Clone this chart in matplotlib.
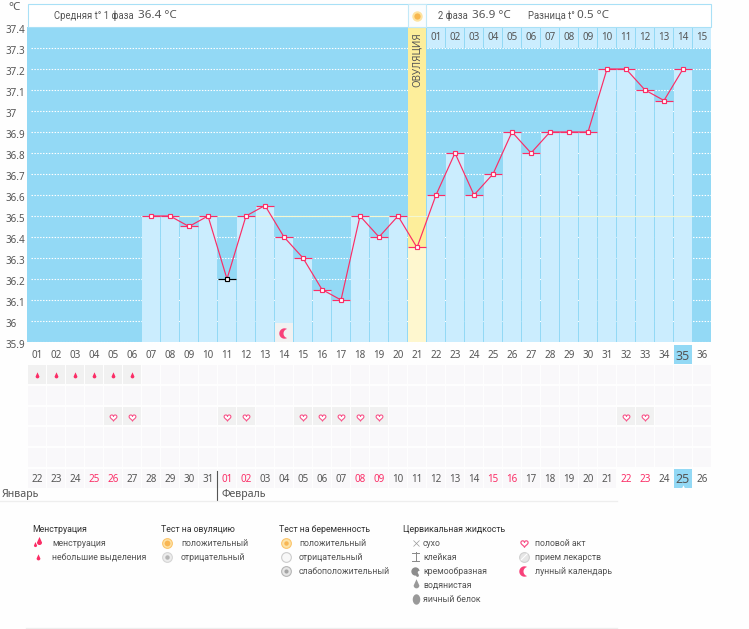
import numpy as np
import matplotlib
matplotlib.use("Agg")
import matplotlib.pyplot as plt
from matplotlib.path import Path
from matplotlib.patches import Rectangle
from matplotlib.transforms import ScaledTranslation

# ---------- data ----------
temp_days = list(range(7, 36))
temps = [36.5, 36.5, 36.45, 36.5, 36.2, 36.5, 36.55, 36.4, 36.3, 36.15, 36.1, 36.5, 36.4, 36.5,
         36.35, 36.6, 36.8, 36.6, 36.7, 36.9, 36.8, 36.9, 36.9, 36.9, 37.2, 37.2, 37.1, 37.05, 37.2]
excluded_days = [11]
ovulation_day = 21
cycle_days = list(range(1, 37))
cycle_labels = [f"{d:02d}" for d in cycle_days]
date_labels = ['22', '23', '24', '25', '26', '27', '28', '29', '30', '31', '01', '02', '03', '04', '05', '06', '07', '08',
               '09', '10', '11', '12', '13', '14', '15', '16', '17', '18', '19', '20', '21', '22', '23', '24', '25', '26']
weekend_days = [4, 5, 11, 12, 18, 19, 25, 26, 32, 33]
phase2_labels = [f"{d:02d}" for d in range(1, 16)]
phase2_days = list(range(22, 37))
spotting_days = [1, 2, 3, 4, 5, 6]
intercourse_days = [5, 6, 11, 12, 15, 16, 17, 18, 19, 32, 33]
moon_day = 14
current_day = 35
y_ticks = [35.9, 36, 36.1, 36.2, 36.3, 36.4, 36.5, 36.6, 36.7, 36.8, 36.9, 37, 37.1, 37.2, 37.3, 37.4]
y_labels = ['35.9', '36', '36.1', '36.2', '36.3', '36.4', '36.5', '36.6', '36.7', '36.8', '36.9', '37', '37.1', '37.2', '37.3', '37.4']

# ---------- style ----------
plt.rcParams['font.family'] = ['Noto Sans', 'DejaVu Sans']
W, H = 749, 629
SKY = '#93d9f5'; BAR = '#cbedfe'; PINK = '#fb2d66'; TXT = '#555555'; CELL = '#f9f8fa'; CELLON = '#f1f1f1'
FS = 7.1
px = 72 / 100

fig = plt.figure(figsize=(W / 100, H / 100), dpi=100, facecolor='#fefefe')

def axes_px(x0, y0, x1, y1, **kw):
    return fig.add_axes([x0 / W, 1 - y1 / H, (x1 - x0) / W, (y1 - y0) / H], **kw)

# markers
t = np.linspace(0, 2 * np.pi, 60)
heart = Path(np.c_[16 * np.sin(t) ** 3, 13 * np.cos(t) - 5 * np.cos(2 * t) - 2 * np.cos(3 * t) - np.cos(4 * t)], closed=True)
drop = Path(np.r_[[[0, 2.2]], np.c_[np.cos(np.linspace(0, -np.pi, 30)), np.sin(np.linspace(0, -np.pi, 30))], [[0, 2.2]]], closed=True)
a1 = np.linspace(np.pi / 3, 5 * np.pi / 3, 40)
a2 = np.linspace(4.486, 1.798, 40)
crescent = Path(np.r_[np.c_[np.cos(a1), np.sin(a1)], np.c_[0.7 + 0.889 * np.cos(a2), 0.889 * np.sin(a2)]], closed=True)
a3 = np.linspace(0, 2 * np.pi, 40)
egg = Path(np.c_[0.72 * np.cos(a3), np.sin(a3)], closed=True)

XLIM = (0.5 - 0.5 / 19, 36.5 - 0.5 / 19)

# ---------- main chart ----------
ax = axes_px(27, 27, 711, 342)
ax.set_zorder(5)
ax.set_xlim(*XLIM)
ax.set_ylim(35.9, 37.4)
ax.set_facecolor(SKY)
for s in ax.spines.values():
    s.set_visible(False)
for v in y_ticks[:-1]:
    ax.hlines(v, 0.68, 36.5, color='white', lw=0.8, linestyles=(0, (1.3, 1.3)), zorder=1, clip_on=False)
bar_w = 18 / 19
ax.bar(temp_days, np.array(temps) - 35.9, bottom=35.9, width=bar_w, color=BAR, zorder=2, antialiased=False)
# header numbers strip
ax.bar(phase2_days, [0.1] * len(phase2_days), bottom=37.3, width=bar_w, color=BAR, zorder=2, antialiased=False)
for d, lab in zip(phase2_days, phase2_labels):
    ax.text(d, 37.349, lab, ha='center', va='center', fontsize=FS, color=TXT, zorder=5)
# ovulation
ot = temps[temp_days.index(ovulation_day)]
ax.bar([ovulation_day], [37.4 - ot], bottom=ot, width=bar_w, color='#fdee9b', zorder=3, antialiased=False)
ax.bar([ovulation_day], [ot - 35.9], bottom=35.9, width=bar_w, color='#fef7cf', zorder=3, antialiased=False)
ax.text(ovulation_day, 37.245, 'ОВУЛЯЦИЯ', rotation=90, ha='center', va='center', fontsize=FS, color=TXT, zorder=5)
# mean line
ax.hlines(36.5, 6.5, 35.5, color='#f3f8d2', lw=0.8, zorder=4)
# temperature
ax.plot(temp_days, temps, color=PINK, lw=0.85, zorder=6)
for d, v in zip(temp_days, temps):
    c = 'black' if d in excluded_days else PINK
    ax.hlines(v, d - 0.47, d + 0.47, color=c, lw=0.85, zorder=6)
    ax.plot([d], [v], marker='s', ms=3.3, mfc='white', mec=c, mew=0.85, zorder=7, ls='none')
# moon
ax.bar([moon_day], [0.09], bottom=35.9, width=bar_w, color=CELLON, zorder=5, antialiased=False)
ax.plot([moon_day], [35.944], marker=crescent, ms=7.5, mfc='#f8417a', mec='none', ls='none', zorder=6)

ax.set_xticks(cycle_days, cycle_labels)
ax.set_yticks(y_ticks, y_labels)
ax.tick_params(axis='both', length=0, labelsize=FS, labelcolor=TXT)
ax.tick_params(axis='x', pad=(354 - 342 - 4) * px)
ax.tick_params(axis='y', pad=22 * px)
shift = ScaledTranslation(0, -2 * px / 72, fig.dpi_scale_trans)
for lab in ax.get_yticklabels():
    lab.set_ha('left')
    lab.set_transform(lab.get_transform() + shift)
for lab, d in zip(ax.get_xticklabels(), cycle_days):
    if d == current_day:
        lab.set_fontsize(9)
        lab.set_zorder(10)

# ---------- lower grid ----------
axg = axes_px(27, 345, 711, 491)
axg.set_xlim(*XLIM)
axg.set_ylim(7, 0)
axg.axis('off')
axg.patch.set_visible(False)
cell_h = 19 / 21
axg.bar([current_day], [cell_h], bottom=0, width=bar_w, color=SKY, antialiased=False)
for r in range(1, 6):
    axg.bar(cycle_days, [cell_h] * 36, bottom=r - 0.05, width=bar_w, color=CELL, antialiased=False)
date_cells = cycle_days[:31]
axg.bar(date_cells, [cell_h] * 31, bottom=5.95, width=bar_w, color=CELL, antialiased=False)
axg.bar([current_day], [cell_h], bottom=5.95, width=bar_w, color=SKY, antialiased=False)
axg.bar(spotting_days, [cell_h] * len(spotting_days), bottom=0.95, width=bar_w, color=CELLON, antialiased=False)
axg.bar(intercourse_days, [cell_h] * len(intercourse_days), bottom=2.95, width=bar_w, color=CELLON, antialiased=False)
axg.plot(spotting_days, [1.5] * len(spotting_days), ls='none', marker=drop, ms=6, mfc=PINK, mec='none')
axg.plot(intercourse_days, [3.47] * len(intercourse_days), ls='none', marker=heart, ms=5.2, mfc='#ffffff', mec='#f8558a', mew=0.8)
for d, lab in zip(cycle_days, date_labels):
    hot = d in weekend_days
    big = d == current_day
    axg.text(d, 6.44, lab, ha='center', va='center', fontsize=9 if big else FS,
             color=PINK if hot else TXT)
axg.plot([current_day], [6.81], ls='none', marker='^', ms=3, mfc='white', mec='none')

# ---------- page overlay ----------
top = fig.add_axes([0, 0, 1, 1], zorder=20)
top.set_xlim(0, W)
top.set_ylim(H, 0)
top.axis('off')
top.patch.set_visible(False)

top.add_patch(Rectangle((27.5, 3.5), 683, 23.5, fc='white', ec='#a9e0f6', lw=0.8))
top.add_patch(Rectangle((408, 3.5), 18, 23.5, fc='#fbfdfe', ec='#c3e9f8', lw=0.8))
top.plot([417], [16], 'o', ms=7.5, mfc='#fde3a0', mec='none')
top.plot([417], [16], 'o', ms=4.5, mfc='#f7b84f', mec='none')

def T(x, y, s, size=6.3, color=TXT, family='Roboto', **kw):
    top.text(x, y, s, fontsize=size, color=color, va='center', ha=kw.pop('ha', 'left'), family=family, **kw)

HEADER = dict(size=6.85)
NUM = dict(size=8.4, family='Noto Sans')
T(8, 7.5, '°C', **NUM)
T(54.5, 16, 'Средняя t° 1 фаза', **HEADER)
T(138, 15.5, '36.4 °C', **NUM)
T(437.5, 16, '2 фаза', **HEADER)
T(471.5, 15.5, '36.9 °C', **NUM)
T(527.5, 16, 'Разница t°', **HEADER)
T(577, 15.5, '0.5 °C', **NUM)
T(2, 495, 'Январь', size=7.6, family='Noto Sans')
T(222, 495, 'Февраль', size=7.6, family='Noto Sans')
top.plot([217, 217], [471, 500], color='#555555', lw=0.8)
top.plot([0, 617], [500.5, 500.5], color='#eeeeee', lw=0.9)
top.plot([26, 617], [627.5, 627.5], color='#eeeeee', lw=0.9)

# legend
HEAD = '#333333'
T(32, 529, 'Менструация', color=HEAD)
T(161, 529, 'Тест на овуляцию', color=HEAD)
T(279, 529, 'Тест на беременность', color=HEAD)
T(403, 529, 'Цервикальная жидкость', color=HEAD)
rows = [543, 557, 571, 585, 599]
T(52, rows[0], 'менструация')
T(52, rows[1], 'небольшие выделения')
T(181, rows[0], 'положительный')
T(181, rows[1], 'отрицательный')
T(299, rows[0], 'положительный')
T(299, rows[1], 'отрицательный')
T(299, rows[2], 'слабоположительный')
for r, s in zip(rows, ['сухо', 'клейкая', 'кремообразная', 'водянистая', 'яичный белок']):
    T(423, r, s)
for r, s in zip(rows, ['половой акт', 'прием лекарств', 'лунный календарь']):
    T(535, r, s)

def M(x, y, m, ms, fc, ec='none', mew=0.8):
    top.plot([x], [y], ls='none', marker=m, ms=ms, mfc=fc, mec=ec, mew=mew)

M(38.5, 541.5, drop, 8, PINK); M(34.5, 545, drop, 5, PINK)
M(37.5, 557.5, drop, 6, PINK)
M(167, 542.5, 'o', 7, '#fde3a8', '#fbc56b'); M(167, 542.5, 'o', 4.2, '#f8b654')
M(167, 556.5, 'o', 7, '#ececec', '#d5d5d5'); M(167, 556.5, 'o', 3.2, '#b4b4b4')
M(285.5, 542.5, 'o', 7, '#fde3a8', '#fbc56b'); M(285.5, 542.5, 'o', 3.2, '#f8b654')
M(285.5, 556.5, 'o', 7, '#f8f8f8', '#cccccc')
M(285.5, 570.5, 'o', 7, '#e6e6e6', '#b5b5b5'); M(285.5, 570.5, 'o', 3, '#a5a5a5')
M(415.5, 543, 'x', 5, 'none', '#999999', 0.5)
top.plot([415.5, 415.5], [552, 561], color='#888888', lw=0.7)
top.plot([412, 419], [552.5, 552.5], color='#888888', lw=0.7)
top.plot([412, 419], [561, 561], color='#888888', lw=0.7)
M(414.5, 570.5, 'o', 6, '#8c8c8c'); M(418.5, 571.5, 'o', 2.5, '#fefefe'); M(416.5, 575, 'o', 2, '#8c8c8c')
M(415.5, 585, drop, 9, '#999999')
M(415.5, 599, egg, 7.5, '#999999')
M(524, 543, heart, 5.5, '#ffffff', '#f8558a', 0.9)
M(524, 557, 'o', 7, '#e6e6e6', '#cfcfcf'); top.plot([521, 527], [560, 554], color='white', lw=0.8)
M(524, 571, crescent, 7.5, '#f8417a')

fig.savefig('out.png', dpi=100, facecolor=fig.get_facecolor())
